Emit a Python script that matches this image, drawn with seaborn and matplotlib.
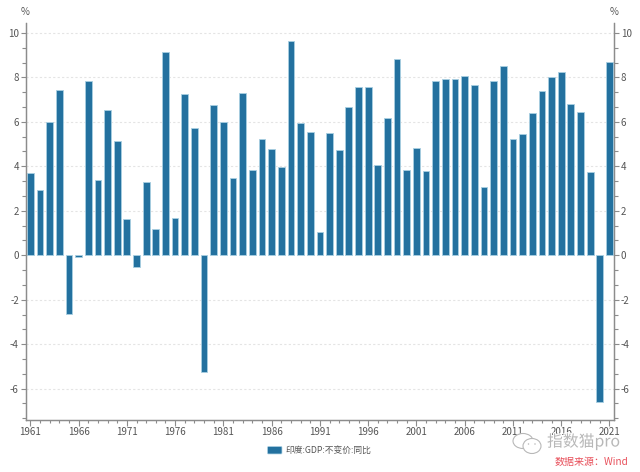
import matplotlib
matplotlib.use("Agg")
import matplotlib.pyplot as plt
from matplotlib.patches import Ellipse, FancyBboxPatch
import matplotlib.patheffects as pe
import pandas as pd
import seaborn as sns

years = list(range(1961, 2022))
gdp_yoy = [3.72, 2.93, 5.99, 7.45, -2.63, -0.06, 7.83, 3.38, 6.54, 5.16,
           1.64, -0.55, 3.29, 1.19, 9.15, 1.66, 7.25, 5.71, -5.24, 6.74,
           6.00, 3.47, 7.29, 3.82, 5.25, 4.78, 3.96, 9.63, 5.95, 5.53,
           1.06, 5.48, 4.75, 6.66, 7.57, 7.55, 4.05, 6.18, 8.85, 3.84,
           4.82, 3.80, 7.86, 7.92, 7.92, 8.06, 7.66, 3.09, 7.86, 8.50,
           5.24, 5.46, 6.39, 7.41, 8.00, 8.26, 6.80, 6.45, 3.74, -6.60, 8.68]
series_name = "印度:GDP:不变价:同比"
y_major = [-6, -4, -2, 0, 2, 4, 6, 8, 10]
y_minor = [-7.33, -6.67, -5.33, -4.67, -3.33, -2.67, -1.33, -0.67,
           0.67, 1.33, 2.67, 3.33, 4.67, 5.33, 6.67, 7.33, 8.67, 9.33]
x_major_years = years[::5]

BAR = "#23719f"
EDGE = "#a9cfe2"
AXIS = "#8c8c8c"
TEXT = "#555555"
MARK = "#b8b8b8"

sns.set_theme(style="white")
plt.rcParams["font.family"] = ["Noto Sans CJK SC", "DejaVu Sans"]
plt.rcParams["axes.unicode_minus"] = False

df = pd.DataFrame({"year": years, "gdp": gdp_yoy})

W, H = 640, 472
fig = plt.figure(figsize=(6.4, 4.72), dpi=100, facecolor="white")
ax = fig.add_axes([25.5 / W, 1 - 419.7 / H, (614.3 - 25.5) / W, (419.7 - 23) / H])

sns.barplot(data=df, x="year", y="gdp", color=BAR, saturation=1, width=0.7,
            edgecolor=EDGE, linewidth=0.6, ax=ax, zorder=3)

ax.set_xlim(-0.5, 60.5)
ax.set_ylim(-7.4, 10.45)
ax.set_xlabel("")
ax.set_ylabel("")

ax.set_yticks(y_major)
ax.set_yticks(y_minor, minor=True)
ax.set_xticks([years.index(y) for y in x_major_years])
ax.set_xticklabels([str(y) for y in x_major_years])
ax.set_xticks(range(len(years)), minor=True)

ax.yaxis.grid(True, which="major", color="#e4e4e4", linestyle=(0, (2, 2)), linewidth=0.8)
ax.xaxis.grid(False)
ax.set_axisbelow(True)
# 0 处没有网格线
for tick, val in zip(ax.yaxis.get_major_ticks(), y_major):
    if val == 0:
        tick.gridline.set_visible(False)

ax2 = ax.twinx()
ax2.set_ylim(ax.get_ylim())
ax2.set_yticks(y_major)
ax2.set_yticks(y_minor, minor=True)
ax2.grid(False)

for a in (ax, ax2):
    a.spines["top"].set_visible(False)
    for s in ("left", "right", "bottom"):
        a.spines[s].set_color(AXIS)
        a.spines[s].set_linewidth(0.9)
    a.tick_params(axis="y", which="major", length=3.8, width=0.8, color=AXIS,
                  labelsize=7, labelcolor=TEXT, pad=1)
    a.tick_params(axis="y", which="minor", length=2.9, width=0.8, color=AXIS)
ax.tick_params(axis="y", which="both", left=True, right=False)
ax2.tick_params(axis="y", which="both", left=False, right=True)
ax.tick_params(axis="x", which="major", length=4.3, width=0.8, color=AXIS,
               labelsize=7, labelcolor=TEXT, pad=1, bottom=True)
ax.tick_params(axis="x", which="minor", length=2.2, width=0.8, color=AXIS, bottom=True)

# 单位
fig.text(25 / W, 1 - 12 / H, "%", fontsize=7, color=TEXT, ha="center", va="center")
fig.text(614 / W, 1 - 12 / H, "%", fontsize=7, color=TEXT, ha="center", va="center")

# 图例
fig.add_artist(FancyBboxPatch((268.5 / W, 1 - 453 / H), 12.5 / W, 5.5 / H, transform=fig.transFigure,
                              boxstyle="round,pad=0.0015", mutation_aspect=W / H,
                              facecolor=BAR, edgecolor=EDGE, linewidth=0.5))
fig.text(285.5 / W, 1 - 450.5 / H, series_name, fontsize=6.3, color=TEXT, ha="left", va="center")

# 水印
for cx, cy, w, h in [(523, 441, 20, 15), (532, 446, 18, 15)]:
    fig.add_artist(Ellipse((cx / W, 1 - cy / H), w / W, h / H, transform=fig.transFigure,
                           facecolor="white", edgecolor=MARK, linewidth=0.8))
for cx in (528.5, 535):
    fig.add_artist(Ellipse((cx / W, 1 - 444 / H), 1.5 / W, 1.5 / H, transform=fig.transFigure,
                           facecolor=MARK, edgecolor="none"))
halo = [pe.withStroke(linewidth=1.5, foreground="white")]
fig.text(547 / W, 1 - 442 / H, "指数猫pro", fontsize=11.4, color=MARK, ha="left",
         va="center", path_effects=halo)
fig.text(555 / W, 1 - 462 / H, "数据来源：Wind", fontsize=7.2, color="#e8505b", ha="left", va="center")

fig.savefig("out.png", dpi=100, facecolor="white")
